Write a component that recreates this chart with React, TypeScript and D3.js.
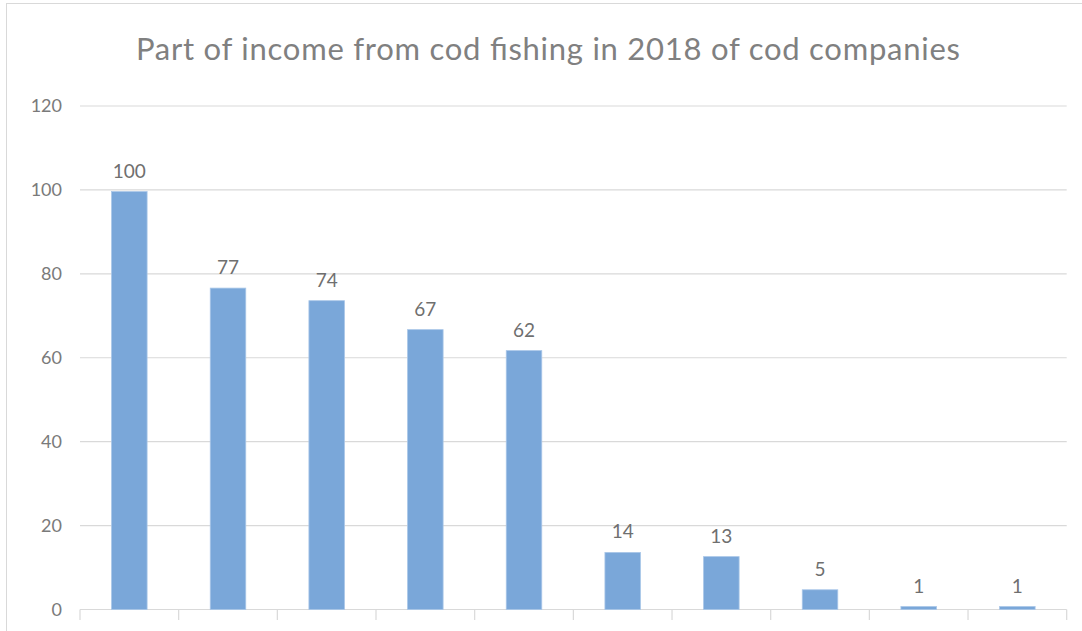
import React from "react";
import * as d3 from "d3";

const categories = ["C1", "C2", "C3", "C4", "C5", "C6", "C7", "C8", "C9", "C10"];
const values = [99.6, 76.6, 73.6, 66.7, 61.7, 13.6, 12.6, 4.7, 0.7, 0.7];
const yTicks = [0, 20, 40, 60, 80, 100, 120];
const title = "Part of income from cod fishing in 2018 of cod companies";

const W = 1082;
const H = 631;
const FONT = "Lato, 'Open Sans', sans-serif";

export default function App() {
  const x = d3
    .scaleBand<string>()
    .domain(categories)
    .range([80, 1066.7])
    .paddingInner(0.64)
    .paddingOuter(0.32);
  const y = d3.scaleLinear().domain([0, 120]).range([609.5, 106]);
  const step = x.step();
  const x0 = 80;
  const fmt = d3.format(".0f");

  return (
    <svg
      width={W}
      height={H}
      style={{ position: "absolute", left: 0, top: 0, background: "#fff" }}
      fontFamily={FONT}
    >
      <rect x={6.5} y={3.5} width={W + 20} height={H + 20} fill="#fff" stroke="#d9d9d9" strokeWidth={1} />
      <text
        x={548}
        y={60}
        textAnchor="middle"
        fontSize={31}
        fill="#808080"
        textLength={824}
        lengthAdjust="spacing"
      >
        {title}
      </text>
      {yTicks.map((t) => (
        <g key={t}>
          {t !== 0 && (
            <line x1={80} x2={1066.7} y1={y(t)} y2={y(t)} stroke="#d9d9d9" strokeWidth={1.2} />
          )}
          <text x={62} y={y(t)} dy="0.35em" textAnchor="end" fontSize={18} fill="#7a7a7a">
            {t}
          </text>
        </g>
      ))}
      <line x1={80} x2={1066.7} y1={y(0)} y2={y(0)} stroke="#d9d9d9" strokeWidth={1.2} />
      {d3.range(categories.length + 1).map((i) => (
        <line
          key={i}
          x1={x0 + i * step}
          x2={x0 + i * step}
          y1={y(0)}
          y2={620}
          stroke="#d9d9d9"
          strokeWidth={1.2}
        />
      ))}
      {categories.map((c, i) => (
        <g key={c}>
          <rect
            x={x(c)}
            y={y(values[i])}
            width={x.bandwidth()}
            height={y(0) - y(values[i])}
            fill="#7aa7d9"
            stroke="#a9c6e8"
            strokeWidth={0.8}
          />
          <text
            x={(x(c) as number) + x.bandwidth() / 2}
            y={y(values[i]) - 14}
            textAnchor="middle"
            fontSize={19}
            fill="#6f6f6f"
          >
            {fmt(values[i])}
          </text>
        </g>
      ))}
    </svg>
  );
}
